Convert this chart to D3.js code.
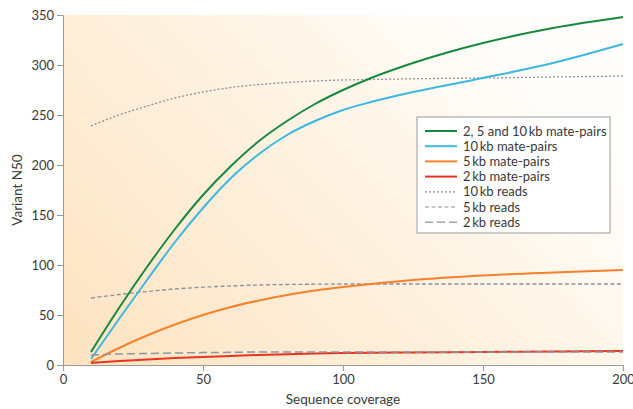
<!DOCTYPE html>
<html>
<head>
<meta charset="utf-8">
<script src="https://cdn.jsdelivr.net/npm/d3@7"></script>
<style>
  body { margin: 0; background: #fff; }
  svg text { font-family: Lato, "Open Sans", sans-serif; fill: #3a3a3a; }
</style>
</head>
<body>
<div id="chart"></div>
<script>
// data
const coverage = [10, 20, 30, 40, 50, 60, 70, 80, 90, 100, 110, 125, 150, 175, 200];
const mp_all   = [13, 57, 98, 136, 170, 199, 224, 244, 261, 275, 287, 302, 322, 337, 348];
const mp_10kb  = [6, 46, 85, 123, 157, 187, 211, 230, 244, 255, 263, 273, 287, 302, 321];
const mp_5kb   = [3, 17, 29.5, 40.5, 50, 58, 64.5, 70, 74.5, 78, 81, 85, 89.5, 92.5, 95];
const mp_2kb   = [2, 4, 5.5, 7, 8, 9, 10, 10.8, 11.4, 12, 12.3, 12.6, 13, 13.5, 14];
const rd_10kb  = [239, 250, 259, 267, 273, 277.5, 280.5, 282.5, 284, 285, 285.5, 286.2, 287, 288, 289];
const rd_5kb   = [67, 70.5, 73.5, 76, 77.8, 79, 80, 80.5, 80.8, 81, 81, 81, 81, 81, 81];
const rd_2kb   = [10, 11, 11.5, 12, 12.4, 12.7, 13, 13, 13, 13, 13, 13, 13, 13, 13];
const xTicks = [0, 50, 100, 150, 200];
const yTicks = [0, 50, 100, 150, 200, 250, 300, 350];

const series = [
  {name: "2, 5 and 10\u2009kb mate-pairs", values: mp_all,  color: "#17893f", width: 2,   dash: null},
  {name: "10\u2009kb mate-pairs",          values: mp_10kb, color: "#3db8e0", width: 2,   dash: null},
  {name: "5\u2009kb mate-pairs",           values: mp_5kb,  color: "#f7812a", width: 2,   dash: null},
  {name: "2\u2009kb mate-pairs",           values: mp_2kb,  color: "#ea3420", width: 2,   dash: null},
  {name: "10\u2009kb reads",               values: rd_10kb, color: "#8c9099", width: 1.3, dash: "2,2"},
  {name: "5\u2009kb reads",                values: rd_5kb,  color: "#8c9099", width: 1.3, dash: "4,2.5"},
  {name: "2\u2009kb reads",                values: rd_2kb,  color: "#8a98a4", width: 1.5, dash: "8,4"}
];

const width = 633, height = 409;
const margin = {top: 15, right: 10, bottom: 44, left: 63};

const svg = d3.select("#chart").append("svg")
  .attr("width", width)
  .attr("height", height);

const x = d3.scaleLinear().domain([0, 200]).range([margin.left, width - margin.right]);
const y = d3.scaleLinear().domain([0, 350]).range([height - margin.bottom, margin.top]);

// background gradient, orange at bottom left fading to white
const grad = svg.append("defs").append("linearGradient")
  .attr("id", "bg")
  .attr("x1", 0).attr("y1", 1).attr("x2", 1).attr("y2", 0.4);
grad.append("stop").attr("offset", "0%").attr("stop-color", "#fde3c0");
grad.append("stop").attr("offset", "55%").attr("stop-color", "#fef1df");
grad.append("stop").attr("offset", "100%").attr("stop-color", "#fffefc");

svg.append("rect")
  .attr("x", x(0)).attr("y", y(350))
  .attr("width", x(200) - x(0)).attr("height", y(0) - y(350))
  .attr("fill", "url(#bg)");

// axes
const xAxis = svg.append("g")
  .attr("transform", "translate(0," + y(0) + ")")
  .call(d3.axisBottom(x).tickValues(xTicks).tickSize(6).tickPadding(4));
const yAxis = svg.append("g")
  .attr("transform", "translate(" + x(0) + ",0)")
  .call(d3.axisLeft(y).tickValues(yTicks).tickSize(6).tickPadding(3));

[xAxis, yAxis].forEach(function(g) {
  g.selectAll("path, line").attr("stroke", "#9a9a9a");
  g.selectAll("text").style("font-size", "13px").attr("fill", "#3a3a3a")
    .style("font-family", "Lato, 'Open Sans', sans-serif");
});

svg.append("text")
  .attr("x", (x(0) + x(200)) / 2)
  .attr("y", 404)
  .attr("text-anchor", "middle")
  .style("font-size", "13.5px")
  .text("Sequence coverage");

svg.append("text")
  .attr("transform", "translate(22," + y(175) + ")rotate(-90)")
  .attr("text-anchor", "middle")
  .style("font-size", "13.5px")
  .text("Variant N50");

// lines
const line = d3.line()
  .x(function(d, i) { return x(coverage[i]); })
  .y(function(d) { return y(d); })
  .curve(d3.curveMonotoneX);

const drawOrder = [4, 5, 0, 1, 2, 3, 6];
drawOrder.forEach(function(k) {
  const s = series[k];
  svg.append("path")
    .datum(s.values)
    .attr("d", line)
    .attr("fill", "none")
    .attr("stroke", s.color)
    .attr("stroke-width", s.width)
    .attr("stroke-dasharray", s.dash);
});

// legend
const legend = svg.append("g").attr("transform", "translate(417,117)");
legend.append("rect")
  .attr("width", 193).attr("height", 116)
  .attr("fill", "#fff").attr("stroke", "#9a9a9a").attr("stroke-width", 1);

series.forEach(function(s, i) {
  const row = legend.append("g").attr("transform", "translate(0," + (14 + i * 15.2) + ")");
  row.append("line")
    .attr("x1", 8).attr("x2", 40)
    .attr("stroke", s.color)
    .attr("stroke-width", s.dash ? 1.2 : 2)
    .attr("stroke-dasharray", s.dash);
  row.append("text")
    .attr("x", 46).attr("dy", "0.35em")
    .style("font-size", "13px")
    .text(s.name);
});
</script>
</body>
</html>
